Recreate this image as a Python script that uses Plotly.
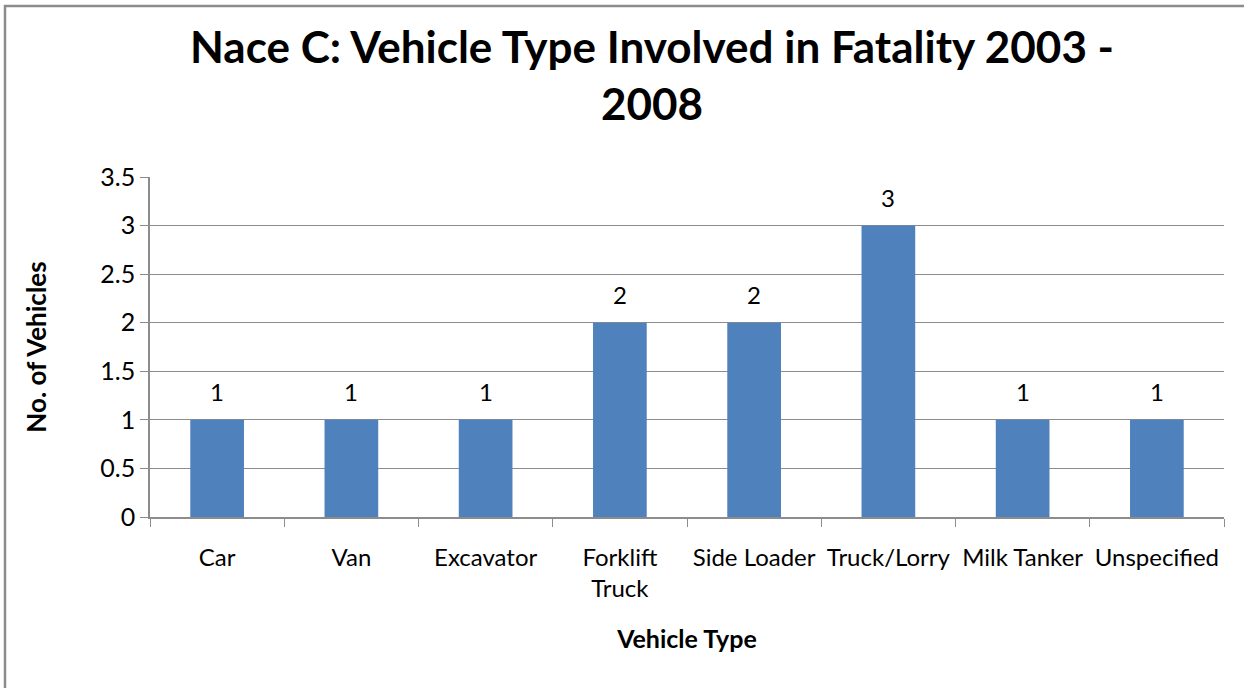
import plotly.graph_objects as go

categories = ["Car", "Van", "Excavator", "Forklift<br>Truck", "Side Loader", "Truck/Lorry", "Milk Tanker", "Unspecified"]
values = [1, 1, 1, 2, 2, 3, 1, 1]
y_ticks = [0, 0.5, 1, 1.5, 2, 2.5, 3, 3.5]

FONT = "Lato, 'Open Sans', sans-serif"
GRID = "#8c8c8c"

# plot area in pixels
L, R, T, B = 150, 1224, 177, 517
W, H = R - L, B - T

fig = go.Figure(go.Bar(
    x=categories, y=values,
    marker=dict(color="#4F81BD", line=dict(width=0)),
    width=0.4,
    hoverinfo="x+y",
))

for c, v in zip(categories, values):
    fig.add_annotation(x=c, y=v, xref="x", yref="y", text=str(v), showarrow=False,
                       yanchor="bottom", yshift=12,
                       font=dict(size=24, color="black", family=FONT))

fig.add_annotation(
    text="<b>Nace C: Vehicle Type Involved in Fatality 2003 -<br>2008</b>",
    xref="paper", yref="paper", x=(652 - L) / W, y=(B - 75) / H,
    xanchor="center", yanchor="middle", showarrow=False,
    font=dict(size=44, family=FONT, color="black"),
)

fig.update_layout(
    width=1244, height=688,
    margin=dict(l=L, r=1244 - R, t=T, b=688 - B, autoexpand=False),
    paper_bgcolor="white", plot_bgcolor="white",
    font=dict(family=FONT, size=25, color="black"),
    showlegend=False,
    bargap=0.6,
)
fig.update_xaxes(
    showline=True, linecolor=GRID, linewidth=1.5,
    ticks="outside", tickson="boundaries", ticklen=8, tickcolor=GRID,
    showgrid=False, automargin=False, tickangle=0,
    tickfont=dict(size=24, family=FONT),
    ticklabelstandoff=18,
    title=dict(text="<b>Vehicle Type</b>", font=dict(size=25, family=FONT), standoff=30),
)
fig.update_yaxes(
    range=[0, 3.5], tickvals=y_ticks, ticktext=[f"{v:g}" for v in y_ticks],
    showline=True, linecolor=GRID, linewidth=1.5,
    ticks="outside", ticklen=8, tickcolor=GRID,
    showgrid=True, gridcolor=GRID, gridwidth=1.2, zeroline=False, automargin=False,
    tickfont=dict(size=25, family=FONT),
    title=dict(text="<b>No. of Vehicles</b>", font=dict(size=26, family=FONT), standoff=46),
)

# chart border
fig.add_shape(type="rect", xref="paper", yref="paper",
              x0=(5 - L) / W, x1=(1250 - L) / W,
              y0=(B - 700) / H, y1=(B - 6) / H,
              line=dict(color="#8c8c8c", width=2.5), layer="below")

fig.write_html("out.html", config={"displayModeBar": False},
               post_script="document.body.style.margin='0';")
